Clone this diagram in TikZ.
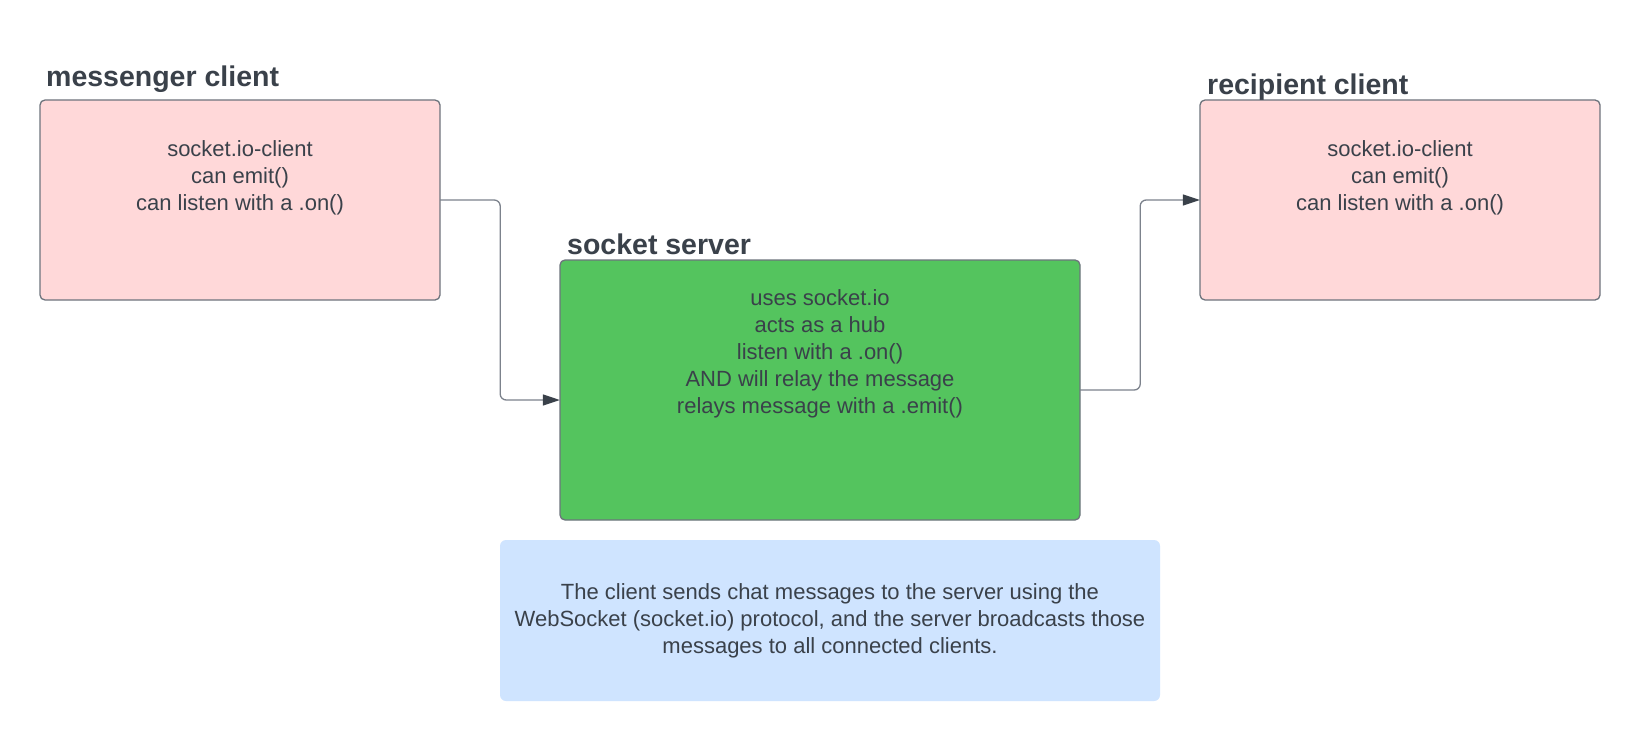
\documentclass[tikz,border=0pt]{standalone}
\usepackage{fontspec}
\setmainfont{Liberation Sans}
\usetikzlibrary{arrows.meta}
\definecolor{pinkfill}{HTML}{FFD8D9}
\definecolor{greenfill}{HTML}{54C45E}
\definecolor{bluefill}{HTML}{CFE4FF}
\definecolor{boxborder}{HTML}{6E747D}
\definecolor{txt}{HTML}{3A414A}
\definecolor{linec}{HTML}{7C828C}
\definecolor{tipc}{HTML}{3A414A}
\tikzset{
  boxshape/.style={draw=boxborder, line width=1.3pt, rounded corners=5pt, inner sep=0pt},
  notebox/.style={draw=none, rounded corners=6pt, inner sep=0pt, fill=bluefill},
  titletext/.style={text=txt, font=\fontsize{28.5}{34}\selectfont\bfseries, inner sep=0pt, anchor=base west},
  bodytext/.style={text=txt, font=\fontsize{22}{27}\selectfont, align=center, inner sep=0pt},
  conn/.style={draw=linec, line width=1.3pt, rounded corners=6pt, -{Triangle[length=17pt,width=11pt,color=tipc]}},
}
\begin{document}
\begin{tikzpicture}[x=1pt,y=-1pt]
\useasboundingbox[fill=white] (0,0) rectangle (1640,741);
% boxes
\path[boxshape, fill=pinkfill] (40,100) rectangle (440,300);
\node[minimum width=400pt, minimum height=200pt] (msg) at (240,200) {};
\path[boxshape, fill=greenfill] (560,260) rectangle (1080,520);
\node[minimum width=520pt, minimum height=260pt] (srv) at (820,390) {};
\path[boxshape, fill=pinkfill] (1200,100) rectangle (1600,300);
\node[minimum width=400pt, minimum height=200pt] (rcp) at (1400,200) {};
\path[notebox] (500,540) rectangle (1160,701);
\node[minimum width=660pt, minimum height=161pt] (note) at (830,620.5) {};
% titles
\node[titletext] (msgtitle) at (46,87) {messenger client};
\node[titletext] (srvtitle) at (567,254.5) {socket server};
\node[titletext] (rcptitle) at (1207,95) {recipient client};
% body texts
\node[bodytext] (msgtext) at (240,177.5) {socket.io-client\\can emit()\\can listen with a .on()};
\node[bodytext] (rcptext) at (1400,177.5) {socket.io-client\\can emit()\\can listen with a .on()};
\node[bodytext] (srvtext) at (820,353.5) {uses socket.io\\acts as a hub\\listen with a .on()\\AND will relay the message\\relays message with a .emit()};
\node[bodytext] (notetext) at (830,620.5) {The client sends chat messages to the server using the\\WebSocket (socket.io) protocol, and the server broadcasts those\\messages to all connected clients.};
% connectors
\draw[conn] (msg.east) -- ++(60,0) |- ([yshift=-10pt]srv.west);
\draw[conn] (srv.east) -- ++(60,0) |- (rcp.west);
\end{tikzpicture}
\end{document}
